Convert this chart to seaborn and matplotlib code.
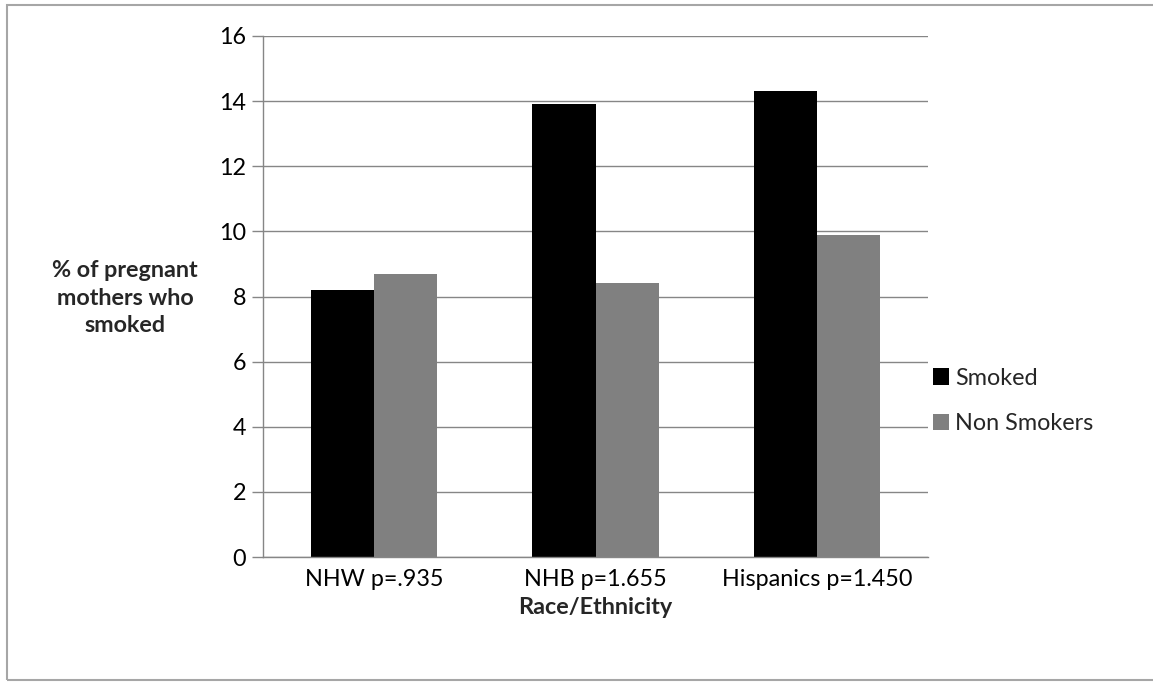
import matplotlib
matplotlib.use("Agg")
import matplotlib.pyplot as plt
import seaborn as sns
import pandas as pd
from matplotlib.patches import Rectangle, Patch

categories = ["NHW p=.935", "NHB p=1.655", "Hispanics p=1.450"]
series_names = ["Smoked", "Non Smokers"]
smoked = [8.2, 13.9, 14.3]
non_smokers = [8.7, 8.4, 9.9]
y_ticks = [0, 2, 4, 6, 8, 10, 12, 14, 16]

df = pd.DataFrame({
    "Race/Ethnicity": categories * 2,
    "Group": [series_names[0]] * 3 + [series_names[1]] * 3,
    "Value": smoked + non_smokers,
})

sns.set_theme(style="white")
plt.rcParams["font.family"] = ["Lato", "DejaVu Sans"]

W, H = 1153, 682
FS = 16.8
fig = plt.figure(figsize=(W / 100, H / 100), dpi=100)
ax = fig.add_axes([263 / W, 1 - 557 / H, (928 - 263) / W, (557 - 36) / H])

colors = {"Smoked": "#000000", "Non Smokers": "#808080"}
sns.barplot(data=df, x="Race/Ethnicity", y="Value", hue="Group", palette=colors,
            width=0.57, saturation=1, ax=ax, legend=False, linewidth=0)

grid_c = "#868686"
ax.set_ylim(0, 16)
ax.set_xlim(-0.5, 2.5)
ax.set_yticks(y_ticks)
ax.set_yticklabels([str(v) for v in y_ticks], fontsize=FS, color="#000000")
ax.yaxis.grid(True, color=grid_c, linewidth=1)
ax.set_axisbelow(True)
for s in ["top", "right"]:
    ax.spines[s].set_visible(False)
for s in ["left", "bottom"]:
    ax.spines[s].set_color(grid_c)
    ax.spines[s].set_linewidth(1)

ax.set_xticks([0, 1, 2])
ax.set_xticklabels(categories, fontsize=FS, color="#000000")
ax.set_xticks([-0.5, 0.5, 1.5, 2.5], minor=True)
ax.tick_params(axis="x", which="major", length=0, pad=9)
ax.tick_params(axis="x", which="minor", length=8, color=grid_c, width=1, direction="out")
ax.tick_params(axis="y", which="major", length=8, color=grid_c, width=1, direction="out", pad=4, left=True)

ax.set_xlabel("Race/Ethnicity", fontsize=FS, fontweight="bold", labelpad=5)
ax.set_ylabel("")
fig.text(125 / W, 1 - 298 / H, "% of pregnant\nmothers who\nsmoked", ha="center", va="center",
         fontsize=FS, fontweight="bold", linespacing=1.4)

handles = [Patch(facecolor=colors[n], edgecolor="none", label=n) for n in series_names]
fig.legend(handles=handles, loc="center left", bbox_to_anchor=(933 / W, 1 - 401 / H),
           frameon=False, fontsize=FS, handlelength=0.7, handleheight=0.7,
           handletextpad=0.25, labelspacing=1.05, borderaxespad=0, borderpad=0)

fig.patches.append(Rectangle((7 / W, 2 / H), 1.02, (680 - 5) / H, transform=fig.transFigure,
                             fill=False, edgecolor="#a6a6a6", linewidth=1.5))

fig.savefig("out.png", dpi=100, facecolor="white")
